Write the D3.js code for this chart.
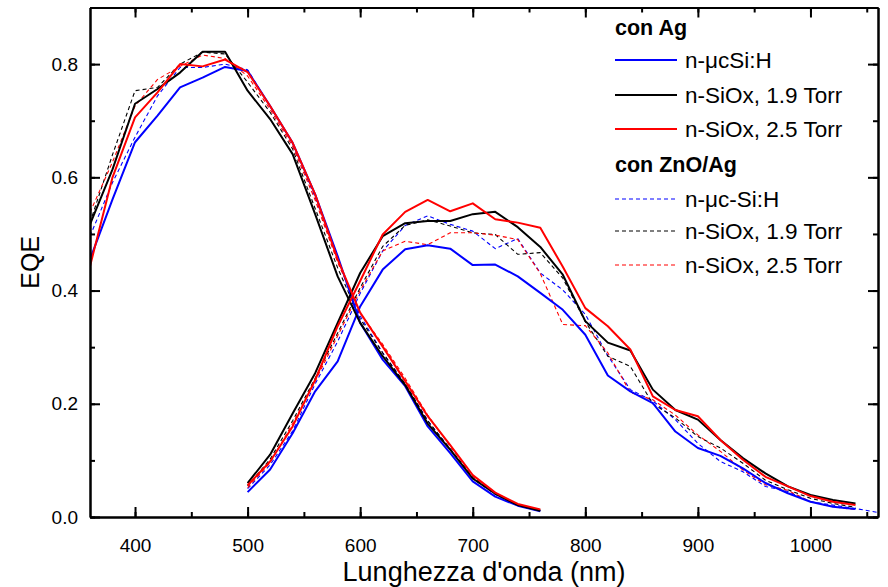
<!DOCTYPE html>
<html>
<head>
<meta charset="utf-8">
<script src="https://cdn.jsdelivr.net/npm/d3@7"></script>
<style>
	body { margin: 0; background: #fff; }
	svg text { font-family: "Liberation Sans", Arial, sans-serif; }
	.axis line, .axis path { stroke: #000; }
</style>
</head>
<body>
<div id="chart"></div>
<script>
var w = 888, h = 587;
var margin = {left: 90, right: 10, top: 7.5, bottom: 70};

// wavelengths (nm), one point every 20 nm
var wlLeft = d3.range(360, 761, 20);
var wlRight = d3.range(500, 1041, 20);
var wlRightLong = d3.range(500, 1061, 20);

var xTicks = [400, 500, 600, 700, 800, 900, 1000];
var yTicks = [0, 0.2, 0.4, 0.6, 0.8];

// con Ag (solid)
var agUcLeft = [0.455,0.561,0.662,0.709,0.759,0.776,0.795,0.788,0.726,0.661,0.570,0.461,0.343,0.278,0.231,0.160,0.113,0.063,0.036,0.020,0.010];
var agUcRight = [0.044,0.084,0.148,0.222,0.275,0.372,0.437,0.473,0.480,0.474,0.445,0.446,0.425,0.396,0.366,0.322,0.250,0.222,0.201,0.151,0.122,0.108,0.086,0.060,0.042,0.027,0.018,0.014];
var ag19Left = [0.517,0.614,0.730,0.756,0.785,0.822,0.822,0.753,0.703,0.641,0.535,0.425,0.343,0.284,0.233,0.165,0.119,0.068,0.041,0.021,0.011];
var ag19Right = [0.060,0.110,0.183,0.254,0.343,0.431,0.496,0.519,0.523,0.523,0.535,0.539,0.512,0.477,0.428,0.346,0.308,0.294,0.225,0.189,0.172,0.136,0.104,0.077,0.054,0.039,0.030,0.024];
var ag25Left = [0.443,0.600,0.706,0.750,0.800,0.796,0.808,0.786,0.726,0.661,0.570,0.455,0.361,0.301,0.240,0.178,0.127,0.074,0.043,0.023,0.0135];
var ag25Right = [0.056,0.098,0.160,0.242,0.337,0.417,0.499,0.539,0.560,0.540,0.554,0.526,0.520,0.511,0.442,0.369,0.337,0.296,0.213,0.189,0.178,0.136,0.101,0.071,0.054,0.037,0.027,0.021];

// con ZnO/Ag (dashed)
var znUcLeft = [0.496,0.591,0.671,0.744,0.794,0.794,0.800,0.790,0.725,0.660,0.565,0.455,0.355,0.290,0.235,0.170,0.120,0.068,0.040,0.020,0.011];
var znUcRight = [0.050,0.092,0.152,0.235,0.310,0.395,0.470,0.515,0.532,0.517,0.505,0.474,0.492,0.431,0.401,0.358,0.285,0.225,0.205,0.172,0.130,0.098,0.080,0.054,0.045,0.027,0.021,0.015,0.008];
var zn19Left = [0.520,0.640,0.753,0.759,0.800,0.821,0.818,0.768,0.715,0.650,0.545,0.440,0.350,0.290,0.235,0.170,0.120,0.070,0.042,0.022,0.012];
var zn19Right = [0.055,0.102,0.170,0.245,0.325,0.405,0.478,0.515,0.525,0.514,0.502,0.499,0.464,0.467,0.422,0.345,0.284,0.266,0.200,0.175,0.142,0.122,0.095,0.065,0.048,0.033,0.024,0.017];
var zn25Left = [0.538,0.627,0.726,0.773,0.796,0.816,0.810,0.779,0.720,0.655,0.560,0.450,0.360,0.305,0.245,0.180,0.125,0.072,0.043,0.022,0.012];
var zn25Right = [0.052,0.096,0.165,0.240,0.320,0.400,0.470,0.487,0.481,0.502,0.502,0.498,0.490,0.430,0.340,0.338,0.290,0.220,0.207,0.180,0.145,0.116,0.083,0.057,0.047,0.027,0.018,0.013];

var series = [
	{name: "n-\u03bccSi:H", group: "Ag", color: "#0000ff", dash: null, left: agUcLeft, right: agUcRight, wr: wlRight},
	{name: "n-SiOx, 1.9 Torr", group: "Ag", color: "#000000", dash: null, left: ag19Left, right: ag19Right, wr: wlRight},
	{name: "n-SiOx, 2.5 Torr", group: "Ag", color: "#ff0000", dash: null, left: ag25Left, right: ag25Right, wr: wlRight},
	{name: "n-\u03bcc-Si:H", group: "ZnO", color: "#0000ff", dash: "4,3", left: znUcLeft, right: znUcRight, wr: wlRightLong},
	{name: "n-SiOx, 1.9 Torr", group: "ZnO", color: "#000000", dash: "4,3", left: zn19Left, right: zn19Right, wr: wlRight},
	{name: "n-SiOx, 2.5 Torr", group: "ZnO", color: "#ff0000", dash: "4,3", left: zn25Left, right: zn25Right, wr: wlRight}
];

var svg = d3.select("#chart").append("svg")
	.attr("width", w)
	.attr("height", h);

var x = d3.scaleLinear().domain([360, 1060]).range([margin.left, w - margin.right]);
var y = d3.scaleLinear().domain([0, 0.9]).range([h - margin.bottom, margin.top]);

svg.append("clipPath").attr("id", "clip")
	.append("rect")
	.attr("x", x.range()[0]).attr("y", y.range()[1])
	.attr("width", x.range()[1] - x.range()[0])
	.attr("height", y.range()[0] - y.range()[1]);

// Curves
var line = d3.line()
	.x(function(d) { return x(d[0]); })
	.y(function(d) { return y(d[1]); });

var curves = svg.append("g").attr("clip-path", "url(#clip)");

// dashed first so the solid ones sit on top
[3, 4, 5, 0, 1, 2].forEach(function(i) {
	var s = series[i];
	var parts = [d3.zip(wlLeft, s.left), d3.zip(s.wr, s.right)];
	parts.forEach(function(p) {
		curves.append("path")
			.datum(p)
			.attr("d", line)
			.attr("fill", "none")
			.attr("stroke", s.color)
			.attr("stroke-width", s.dash ? 1.1 : 2)
			.attr("stroke-dasharray", s.dash)
			.attr("stroke-linejoin", "round");
	});
});

// Frame with inward ticks on every side
var xMinor = d3.range(400, 1051, 50);
var yMinor = d3.range(0, 0.91, 0.1);

var frame = svg.append("g").attr("class", "axis");

var bottomAxis = d3.axisBottom(x).tickValues(xMinor).tickSizeInner(-5).tickSizeOuter(0).tickFormat("");
var topAxis = d3.axisTop(x).tickValues(xMinor).tickSizeInner(-5).tickSizeOuter(0).tickFormat("");
var leftAxis = d3.axisLeft(y).tickValues(yMinor).tickSizeInner(-5).tickSizeOuter(0).tickFormat("");
var rightAxis = d3.axisRight(y).tickValues(yMinor).tickSizeInner(-5).tickSizeOuter(0).tickFormat("");

frame.append("g").attr("transform", "translate(0," + y(0) + ")").call(bottomAxis);
frame.append("g").attr("transform", "translate(0," + y(0.9) + ")").call(topAxis);
frame.append("g").attr("transform", "translate(" + x(360) + ",0)").call(leftAxis);
frame.append("g").attr("transform", "translate(" + x(1060) + ",0)").call(rightAxis);

// major ticks are longer
frame.append("g").attr("transform", "translate(0," + y(0) + ")")
	.call(d3.axisBottom(x).tickValues(xTicks).tickSizeInner(-10).tickSizeOuter(0).tickPadding(22).tickFormat(d3.format("d")));
frame.append("g").attr("transform", "translate(0," + y(0.9) + ")")
	.call(d3.axisTop(x).tickValues(xTicks).tickSizeInner(-10).tickSizeOuter(0).tickFormat(""));
frame.append("g").attr("transform", "translate(" + x(360) + ",0)")
	.call(d3.axisLeft(y).tickValues(yTicks).tickSizeInner(-10).tickSizeOuter(0).tickPadding(12).tickFormat(d3.format(".1f")));
frame.append("g").attr("transform", "translate(" + x(1060) + ",0)")
	.call(d3.axisRight(y).tickValues(yTicks).tickSizeInner(-10).tickSizeOuter(0).tickFormat(""));

frame.selectAll("path.domain").attr("stroke-width", 2);
frame.selectAll(".tick line").attr("stroke-width", 2);
frame.selectAll(".tick text")
	.attr("font-family", "Liberation Sans, Arial, sans-serif")
	.attr("font-size", 19)
	.attr("fill", "#000");

// Axis titles
svg.append("text")
	.attr("x", (x(360) + x(1060)) / 2)
	.attr("y", 581)
	.attr("text-anchor", "middle")
	.attr("font-size", 27)
	.text("Lunghezza d'onda (nm)");

svg.append("text")
	.attr("transform", "translate(39," + y(0.45) + ") rotate(-90)")
	.attr("text-anchor", "middle")
	.attr("font-size", 25)
	.text("EQE");

// Legend
var legend = svg.append("g").attr("class", "legend");
var rowY = [60, 95, 129, 199, 231, 265];

legend.append("text").attr("x", 615).attr("y", 35)
	.attr("font-size", 21.5).attr("font-weight", "bold").text("con Ag");
legend.append("text").attr("x", 615).attr("y", 172)
	.attr("font-size", 21.5).attr("font-weight", "bold").text("con ZnO/Ag");

series.forEach(function(s, i) {
	legend.append("line")
		.attr("x1", 615).attr("x2", 677)
		.attr("y1", rowY[i]).attr("y2", rowY[i])
		.attr("stroke", s.color)
		.attr("stroke-width", s.dash ? 1.1 : 2)
		.attr("stroke-dasharray", s.dash);
	legend.append("text")
		.attr("x", 685).attr("y", rowY[i] + 8)
		.attr("font-size", 22.5)
		.text(s.name);
});
</script>
</body>
</html>
